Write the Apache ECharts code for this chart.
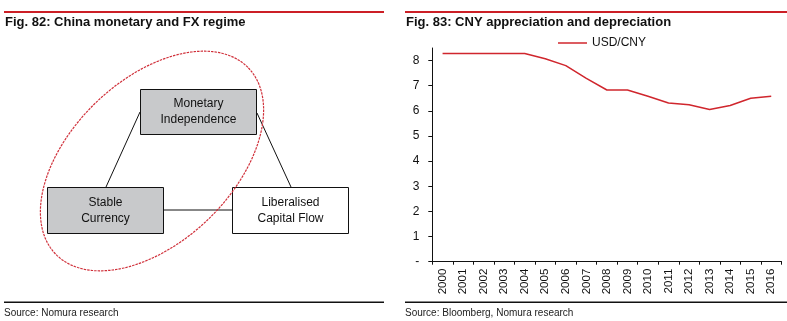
<!DOCTYPE html>
<html>
<head>
<meta charset="utf-8">
<script src="https://cdn.jsdelivr.net/npm/echarts@6/dist/echarts.min.js"></script>
<style>
html,body{margin:0;padding:0;background:#fff;}
#c{width:787px;height:321px;}
</style>
</head>
<body>
<div id="c"></div>
<script>
// ---- data ----
const years = ['2000','2001','2002','2003','2004','2005','2006','2007','2008','2009','2010','2011','2012','2013','2014','2015','2016'];
const usdcny = [8.28, 8.28, 8.28, 8.28, 8.28, 8.07, 7.80, 7.29, 6.83, 6.83, 6.58, 6.31, 6.24, 6.05, 6.21, 6.50, 6.58];
const seriesName = 'USD/CNY';
const titles = ['Fig. 82: China monetary and FX regime', 'Fig. 83: CNY appreciation and depreciation'];
const sources = ['Source: Nomura research', 'Source: Bloomberg, Nomura research'];
const nodeLabels = ['Monetary\nIndependence', 'Stable\nCurrency', 'Liberalised\nCapital Flow'];

const FONT = '"Liberation Sans", Arial, Helvetica, sans-serif';
const RED = '#cc1f26';
const GRAY = '#c8c9cb';

// ---- diagram graphics ----
const g = [];
g.push({type:'rect', shape:{x:4, y:11, width:380, height:2}, style:{fill:RED}, silent:true});
g.push({type:'rect', shape:{x:405, y:11, width:382, height:2}, style:{fill:RED}, silent:true});
g.push({type:'rect', shape:{x:4, y:301.5, width:380, height:1.5}, style:{fill:'#111'}, silent:true});
g.push({type:'rect', shape:{x:405, y:301.5, width:382, height:1.5}, style:{fill:'#111'}, silent:true});
g.push({type:'text', style:{text:sources[0], x:4, y:313, fill:'#222', font:'10px ' + FONT, verticalAlign:'middle'}, silent:true});
g.push({type:'text', style:{text:sources[1], x:405, y:313, fill:'#222', font:'10px ' + FONT, verticalAlign:'middle'}, silent:true});

const lineStyle = {stroke:'#111', lineWidth:1};
g.push({type:'line', shape:{x1:140, y1:112, x2:106, y2:187}, style:lineStyle, z:1});
g.push({type:'line', shape:{x1:257, y1:113, x2:291, y2:187}, style:lineStyle, z:1});
g.push({type:'line', shape:{x1:163, y1:210, x2:232, y2:210}, style:lineStyle, z:1});

const boxes = [
  {x:140.5, y:89.5, w:116, h:45, fill:GRAY},
  {x:47.5, y:187.5, w:116, h:46, fill:GRAY},
  {x:232.5, y:187.5, w:116, h:46, fill:'#fff'}
];
boxes.forEach((b, i) => {
  g.push({type:'rect', shape:{x:b.x, y:b.y, width:b.w, height:b.h}, style:{fill:b.fill, stroke:'#111', lineWidth:1}, z:2});
  g.push({type:'text', style:{text:nodeLabels[i], x:b.x + b.w/2, y:b.y + b.h/2, align:'center', verticalAlign:'middle',
    fill:'#111', font:'12px ' + FONT, lineHeight:16}, z:3});
});

(function(){
  const cx = 152, cy = 161, a = 134, b = 81, th = 44 * Math.PI / 180;
  const pts = [];
  for (let k = 0; k < 240; k++) {
    const t = k / 240 * Math.PI * 2;
    const ux = Math.cos(th), uy = -Math.sin(th);
    const vx = Math.sin(th), vy = Math.cos(th);
    pts.push([cx + a*Math.cos(t)*ux + b*Math.sin(t)*vx, cy + a*Math.cos(t)*uy + b*Math.sin(t)*vy]);
  }
  g.push({type:'polygon', shape:{points:pts}, style:{fill:'none', stroke:'#d0303a', lineWidth:1.2, lineDash:[2.5,1]}, z:4});
})();

const chart = echarts.init(document.getElementById('c'), null, {renderer:'canvas'});
chart.setOption({
  animation:false,
  backgroundColor:'#fff',
  title:[
    {text:titles[0], left:5, top:16, padding:0, textStyle:{fontSize:13, fontWeight:'bold', color:'#111', fontFamily:FONT}},
    {text:titles[1], left:406, top:16, padding:0, textStyle:{fontSize:13, fontWeight:'bold', color:'#111', fontFamily:FONT}}
  ],
  legend:{
    data:[{name:seriesName, icon:'rect'}], left:558, top:37, padding:0, itemWidth:29, itemHeight:1.5,
    itemStyle:{color:'#d0262d'},
    textStyle:{fontSize:12, color:'#111', fontFamily:FONT}
  },
  grid:{left:432.3, right:5.5, top:48, bottom:59.3, containLabel:false},
  xAxis:{
    type:'category', data:years, boundaryGap:true,
    axisLine:{show:true, lineStyle:{color:'#111', width:1}},
    axisTick:{show:true, length:3, alignWithLabel:false, lineStyle:{color:'#111'}},
    axisLabel:{rotate:90, interval:0, margin:7, fontSize:11.5, color:'#111', fontFamily:FONT},
    splitLine:{show:false}
  },
  yAxis:{
    type:'value', min:0, max:8.5, interval:1,
    axisLine:{show:true, lineStyle:{color:'#111', width:1}},
    axisTick:{show:true, length:4, lineStyle:{color:'#111'}},
    axisLabel:{margin:13, fontSize:12, color:'#111', fontFamily:FONT, showMaxLabel:false,
      formatter: v => (v === 0 ? '-' : (Number.isInteger(v) ? String(v) : ''))},
    splitLine:{show:false}
  },
  series:[{
    name:seriesName, type:'line', data:usdcny, symbol:'none', smooth:false,
    lineStyle:{color:'#d0262d', width:1.5}, itemStyle:{color:'#d0262d'}
  }],
  graphic:g
});
</script>
</body>
</html>
